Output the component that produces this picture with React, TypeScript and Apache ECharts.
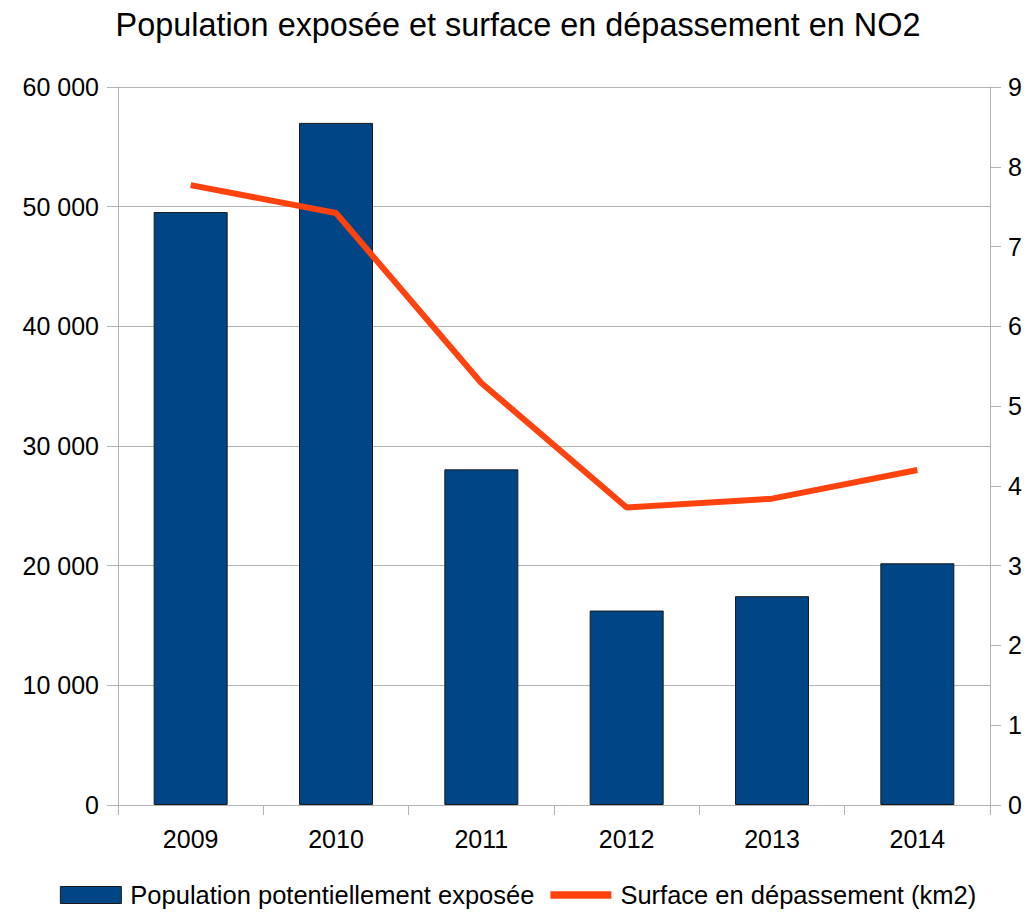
import React, { useEffect, useRef } from "react";
import * as echarts from "echarts";

const years = ["2009", "2010", "2011", "2012", "2013", "2014"];
const population = [49550, 57000, 28050, 16250, 17450, 20200];
const surface = [7.77, 7.42, 5.29, 3.73, 3.84, 4.2];
const seriesNames = ["Population potentiellement exposée", "Surface en dépassement (km2)"];
const titleText = "Population exposée et surface en dépassement en NO2";

const FONT = "'Liberation Sans', Arial, sans-serif";

export default function App() {
  const ref = useRef<HTMLDivElement>(null);
  useEffect(() => {
    const chart = echarts.init(ref.current!, null, { renderer: "svg" });
    chart.setOption({
      animation: false,
      backgroundColor: "#ffffff",
      textStyle: { fontFamily: FONT, color: "#000" },
      title: {
        text: titleText,
        left: "center",
        top: 4,
        textStyle: { fontFamily: FONT, fontSize: 32.4, fontWeight: "normal", color: "#000" },
      },
      legend: {
        bottom: 2,
        left: "center",
        itemWidth: 61,
        itemHeight: 17,
        itemGap: 16,
        symbolKeepAspect: true,
        textStyle: { fontFamily: FONT, fontSize: 25.5, color: "#000", padding: [0, 0, 0, 4] },
        data: [
          { name: seriesNames[0], icon: "rect", itemStyle: { color: "#004586", borderColor: "#1a1a1a", borderWidth: 1 } },
          { name: seriesNames[1], icon: "path://M0,0h58v7h-58z", itemStyle: { color: "#ff420e", borderWidth: 0 } },
        ],
      },
      grid: { left: 118, right: 46, top: 87, bottom: 110, containLabel: false },
      xAxis: {
        type: "category",
        data: years,
        boundaryGap: true,
        axisLine: { lineStyle: { color: "#b3b3b3", width: 1 } },
        axisTick: { show: true, length: 10, lineStyle: { color: "#b3b3b3" } },
        axisLabel: { fontFamily: FONT, fontSize: 25, color: "#000", margin: 21 },
      },
      yAxis: [
        {
          type: "value",
          min: 0,
          max: 60000,
          interval: 10000,
          axisLine: { show: true, lineStyle: { color: "#b3b3b3" } },
          axisTick: { show: true, length: 11, lineStyle: { color: "#b3b3b3" } },
          splitLine: { show: true, lineStyle: { color: "#b3b3b3" } },
          axisLabel: {
            fontFamily: FONT,
            fontSize: 25,
            color: "#000",
            margin: 19,
            formatter: (v: number) => String(v).replace(/\B(?=(\d{3})+(?!\d))/g, " "),
          },
        },
        {
          type: "value",
          min: 0,
          max: 9,
          interval: 1,
          position: "right",
          axisLine: { show: true, lineStyle: { color: "#b3b3b3" } },
          axisTick: { show: true, length: 11, lineStyle: { color: "#b3b3b3" } },
          splitLine: { show: false },
          axisLabel: { fontFamily: FONT, fontSize: 25, color: "#000", margin: 18 },
        },
      ],
      series: [
        {
          name: seriesNames[0],
          type: "bar",
          yAxisIndex: 0,
          data: population,
          barWidth: 74,
          itemStyle: { color: "#004586", borderColor: "#1a1a1a", borderWidth: 1 },
        },
        {
          name: seriesNames[1],
          type: "line",
          yAxisIndex: 1,
          data: surface,
          showSymbol: false,
          symbol: "none",
          lineStyle: { color: "#ff420e", width: 6 },
          itemStyle: { color: "#ff420e" },
        },
      ],
    });
    return () => chart.dispose();
  }, []);
  return (
    <div
      ref={ref}
      style={{ position: "fixed", left: 0, top: 0, width: 1036, height: 915 }}
    />
  );
}
